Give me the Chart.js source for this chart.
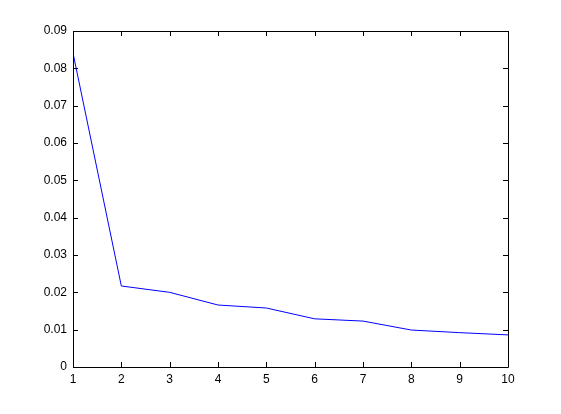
<!DOCTYPE html>
<html>
<head>
<meta charset="utf-8">
<script src="https://cdn.jsdelivr.net/npm/chart.js@4"></script>
<style>
  html, body { margin: 0; padding: 0; background: #fff; }
  #wrap { width: 561px; height: 414px; }
</style>
</head>
<body>
<div id="wrap"><canvas id="chart"></canvas></div>
<script>
const xValues = [1, 2, 3, 4, 5, 6, 7, 8, 9, 10]
const yValues = [0.0841, 0.0217, 0.0200, 0.0166, 0.0158, 0.0129, 0.0123, 0.0099, 0.0092, 0.0086]
const xTicks = [1, 2, 3, 4, 5, 6, 7, 8, 9, 10]
const yTicks = [0, 0.01, 0.02, 0.03, 0.04, 0.05, 0.06, 0.07, 0.08, 0.09]

// box around the axes plus inward tick marks on all four sides
const boxTicks = {
    id: 'boxTicks',
    afterDraw(chart) {
        const ctx = chart.ctx
        const a = chart.chartArea
        const xs = chart.scales.x
        const ys = chart.scales.y
        ctx.save()
        ctx.strokeStyle = '#000'
        ctx.lineWidth = 1
        ctx.beginPath()
        ctx.rect(Math.round(a.left) + 0.5, Math.round(a.top) + 0.5,
                 Math.round(a.right - a.left), Math.round(a.bottom - a.top))
        for (const v of xTicks) {
            const px = Math.round(xs.getPixelForValue(v)) + 0.5
            ctx.moveTo(px, a.bottom); ctx.lineTo(px, a.bottom - 5)
            ctx.moveTo(px, a.top); ctx.lineTo(px, a.top + 5)
        }
        for (const v of yTicks) {
            const py = Math.round(ys.getPixelForValue(v)) + 0.5
            ctx.moveTo(a.left, py); ctx.lineTo(a.left + 5, py)
            ctx.moveTo(a.right, py); ctx.lineTo(a.right - 5, py)
        }
        ctx.stroke()
        ctx.restore()
    }
}

new Chart(document.getElementById('chart'), {
    type: 'line',
    data: {
        datasets: [{
            data: xValues.map((x, i) => ({ x: x, y: yValues[i] })),
            borderColor: '#0000ff',
            borderWidth: 1,
            pointRadius: 0,
            tension: 0,
            fill: false
        }]
    },
    options: {
        responsive: true,
        maintainAspectRatio: false,
        animation: false,
        layout: { padding: { left: 0, top: 31, right: 53, bottom: 0 } },
        plugins: { legend: { display: false }, tooltip: { enabled: false } },
        scales: {
            x: {
                type: 'linear',
                min: 1,
                max: 10,
                afterBuildTicks: s => { s.ticks = xTicks.map(v => ({ value: v })) },
                afterFit: s => { s.height = 47 },
                grid: { display: false, drawTicks: false },
                border: { display: false },
                ticks: {
                    color: '#000',
                    padding: 5,
                    maxRotation: 0,
                    font: { family: 'Liberation Sans, Arial, sans-serif', size: 12 }
                }
            },
            y: {
                min: 0,
                max: 0.09,
                afterBuildTicks: s => { s.ticks = yTicks.map(v => ({ value: v })) },
                afterFit: s => { s.width = 73 },
                grid: { display: false, drawTicks: false },
                border: { display: false },
                ticks: {
                    color: '#000',
                    padding: 6,
                    callback: v => String(Math.round(v * 100) / 100),
                    font: { family: 'Liberation Sans, Arial, sans-serif', size: 12 }
                }
            }
        }
    },
    plugins: [boxTicks]
})
</script>
</body>
</html>
